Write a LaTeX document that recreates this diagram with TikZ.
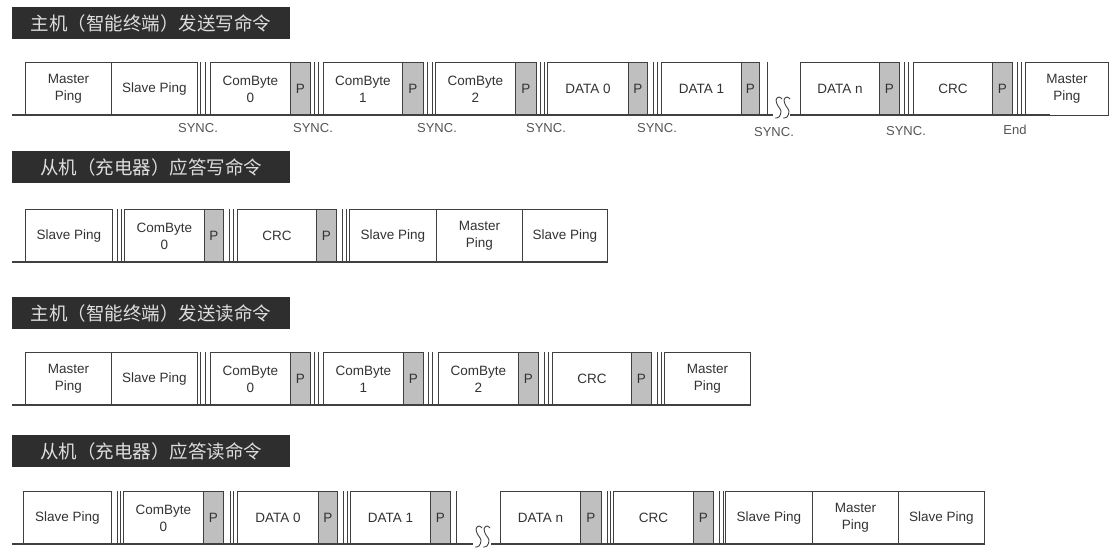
\documentclass[tikz,border=0pt]{standalone}
\usepackage{fontspec}
\setmainfont{Liberation Sans}
\newfontfamily\cjkfont{Noto Sans CJK SC}
\usetikzlibrary{positioning}
\definecolor{titlefill}{HTML}{2E2E2E}
\definecolor{titletext}{HTML}{DDDDDD}
\definecolor{pfill}{HTML}{BFBFBF}
\definecolor{boxedge}{HTML}{404040}
\definecolor{labelgray}{HTML}{555555}

\begin{document}
\begin{tikzpicture}[
    x=1pt, y=-1pt,
    titlebox/.style={rectangle, fill=titlefill, text=titletext, font=\cjkfont\fontsize{18.5}{20}\selectfont, minimum width=278pt, minimum height=32pt, inner sep=0pt, anchor=north west},
    cell/.style={rectangle, draw=boxedge, line width=0.9pt, fill=white, minimum height=53pt, inner sep=0pt, align=center, text=black!80, font=\fontsize{13.5}{17}\selectfont, anchor=north west},
    pbox/.style={cell, fill=pfill},
    sepline/.style={draw=boxedge, line width=0.9pt},
    frameline/.style={draw=boxedge, line width=1.5pt},
    synclabel/.style={text=labelgray, font=\fontsize{13}{15}\selectfont, inner sep=0pt},
    breakmark/.pic={
        \foreach \dx in {0,8}
            \draw[boxedge, line width=0.9pt, xshift=\dx] plot[smooth, tension=0.7] coordinates {(9,-16) (6,-18) (3,-15) (5,-9) (8,-4) (6,2) (2,3)};
    }
]
\useasboundingbox[fill=white] (0,0) rectangle (1110,549);

% Master sends write command
\node[titlebox] (title1) at (12,7) {主机（智能终端）发送写命令};

\node[cell, minimum width=86pt] (r1mping) at (25,62) {Master\\Ping};
\node[cell, minimum width=86pt] (r1sping) at (111,62) {Slave Ping};
\node[cell, minimum width=80pt] (r1cb0) at (210,62) {ComByte\\0};
\node[pbox, minimum width=20pt] (r1p0) at (290,62) {P};
\node[cell, minimum width=79pt] (r1cb1) at (323,62) {ComByte\\1};
\node[pbox, minimum width=21pt] (r1p1) at (402,62) {P};
\node[cell, minimum width=80pt] (r1cb2) at (435,62) {ComByte\\2};
\node[pbox, minimum width=21pt] (r1p2) at (515,62) {P};
\node[cell, minimum width=81pt] (r1d0) at (547,62) {DATA 0};
\node[pbox, minimum width=19pt] (r1p3) at (628,62) {P};
\node[cell, minimum width=80pt] (r1d1) at (661,62) {DATA 1};
\node[pbox, minimum width=18pt] (r1p4) at (741,62) {P};
\node[cell, minimum width=79pt] (r1dn) at (800,62) {DATA n};
\node[pbox, minimum width=20pt] (r1p5) at (879,62) {P};
\node[cell, minimum width=79pt] (r1crc) at (913,62) {CRC};
\node[pbox, minimum width=20pt] (r1p6) at (992,62) {P};
\node[cell, minimum width=83pt] (r1mend) at (1025,62) {Master\\Ping};

\foreach \x in {200,205,314,318,427,432,540,544,653,657,767,904,908,1017,1021}
    \draw[sepline] (\x,62) -- (\x,115);
\draw[frameline] (12,115) -- (773,115);
\draw[frameline] (790,115) -- (1050,115);
\pic at (773,115) {breakmark};

\node[synclabel] (r1sync0) at (198,128) {SYNC.};
\node[synclabel] (r1sync1) at (313,128) {SYNC.};
\node[synclabel] (r1sync2) at (437,128) {SYNC.};
\node[synclabel] (r1sync3) at (546,128) {SYNC.};
\node[synclabel] (r1sync4) at (657,128) {SYNC.};
\node[synclabel] (r1sync5) at (774,132) {SYNC.};
\node[synclabel] (r1sync6) at (906,131) {SYNC.};
\node[synclabel] (r1end) at (1015,130) {End};

% Slave answers write command
\node[titlebox] (title2) at (12,151) {从机（充电器）应答写命令};

\node[cell, minimum width=87pt] (r2sping) at (25,209) {Slave Ping};
\node[cell, minimum width=80pt] (r2cb0) at (124,209) {ComByte\\0};
\node[pbox, minimum width=19pt] (r2p0) at (204,209) {P};
\node[cell, minimum width=79pt] (r2crc) at (237,209) {CRC};
\node[pbox, minimum width=20pt] (r2p1) at (316,209) {P};
\node[cell, minimum width=87pt] (r2sping2) at (349,209) {Slave Ping};
\node[cell, minimum width=86pt] (r2mping) at (436,209) {Master\\Ping};
\node[cell, minimum width=85pt] (r2sping3) at (522,209) {Slave Ping};

\foreach \x in {117,121,229,233,342,346}
    \draw[sepline] (\x,209) -- (\x,262);
\draw[frameline] (12,262) -- (607,262);

% Master sends read command
\node[titlebox] (title3) at (12,297) {主机（智能终端）发送读命令};

\node[cell, minimum width=86pt] (r3mping) at (25,352) {Master\\Ping};
\node[cell, minimum width=86pt] (r3sping) at (111,352) {Slave Ping};
\node[cell, minimum width=80pt] (r3cb0) at (210,352) {ComByte\\0};
\node[pbox, minimum width=20pt] (r3p0) at (290,352) {P};
\node[cell, minimum width=80pt] (r3cb1) at (323,352) {ComByte\\1};
\node[pbox, minimum width=20pt] (r3p1) at (403,352) {P};
\node[cell, minimum width=80pt] (r3cb2) at (438,352) {ComByte\\2};
\node[pbox, minimum width=20pt] (r3p2) at (518,352) {P};
\node[cell, minimum width=79pt] (r3crc) at (552,352) {CRC};
\node[pbox, minimum width=20pt] (r3p3) at (631,352) {P};
\node[cell, minimum width=86pt] (r3mend) at (664,352) {Master\\Ping};

\foreach \x in {200,205,314,318,428,432,544,548,657,661}
    \draw[sepline] (\x,352) -- (\x,405);
\draw[frameline] (12,405) -- (750,405);

% Slave answers read command
\node[titlebox] (title4) at (12,435) {从机（充电器）应答读命令};

\node[cell, minimum width=88pt] (r4sping) at (23,491) {Slave Ping};
\node[cell, minimum width=80pt] (r4cb0) at (123,491) {ComByte\\0};
\node[pbox, minimum width=20pt] (r4p0) at (203,491) {P};
\node[cell, minimum width=81pt] (r4d0) at (237,491) {DATA 0};
\node[pbox, minimum width=19pt] (r4p1) at (318,491) {P};
\node[cell, minimum width=80pt] (r4d1) at (350,491) {DATA 1};
\node[pbox, minimum width=20pt] (r4p2) at (430,491) {P};
\node[cell, minimum width=80pt] (r4dn) at (500,491) {DATA n};
\node[pbox, minimum width=21pt] (r4p3) at (580,491) {P};
\node[cell, minimum width=80pt] (r4crc) at (613,491) {CRC};
\node[pbox, minimum width=20pt] (r4p4) at (693,491) {P};
\node[cell, minimum width=87pt] (r4sping2) at (725,491) {Slave Ping};
\node[cell, minimum width=86pt] (r4mping) at (812,491) {Master\\Ping};
\node[cell, minimum width=86pt] (r4sping3) at (898,491) {Slave Ping};

\foreach \x in {117,120,230,233,343,347,456,607,610,719,723}
    \draw[sepline] (\x,491) -- (\x,544);
\draw[frameline] (12,544) -- (473,544);
\draw[frameline] (491,544) -- (984,544);
\pic at (473,544) {breakmark};

\end{tikzpicture}
\end{document}
